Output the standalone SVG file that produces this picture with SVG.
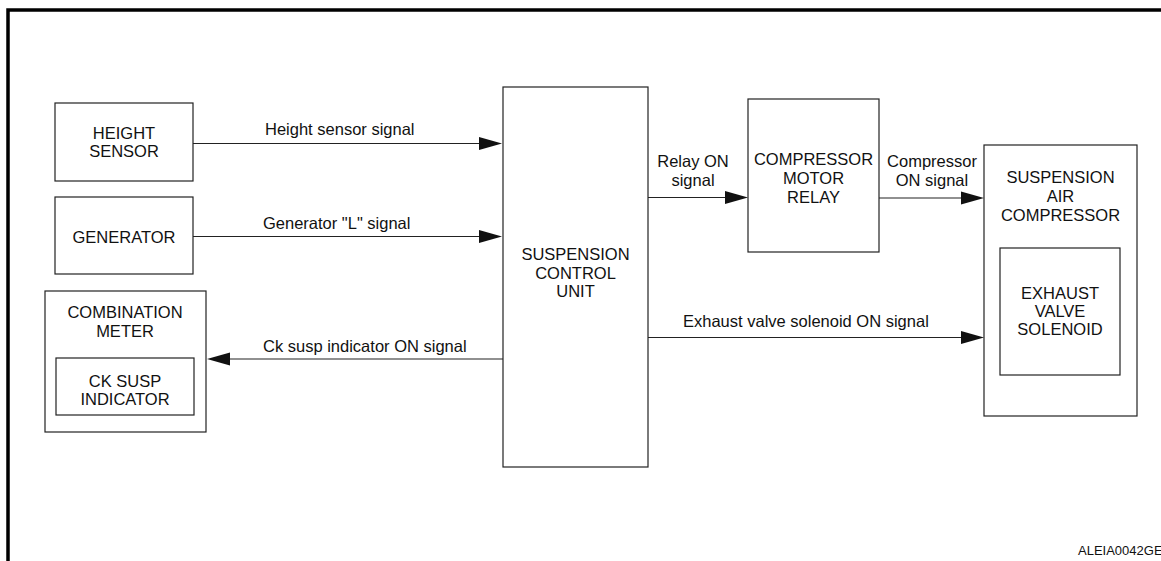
<svg xmlns="http://www.w3.org/2000/svg" width="1161" height="561" viewBox="0 0 1161 561">
<style>
.box{fill:#fff;stroke:#222;stroke-width:1.2}
.t{font-family:"Liberation Sans",Arial,sans-serif;font-size:16.5px;fill:#111;text-anchor:middle}
.l{font-family:"Liberation Sans",Arial,sans-serif;font-size:16.5px;fill:#111}
.c{stroke:#222;stroke-width:1.2;fill:none}
.ah{fill:#111}
</style>
<rect width="1161" height="561" fill="#fff"/>
<path d="M8,561 V10 H1161" fill="none" stroke="#000" stroke-width="3.5"/>
<g id="height-sensor">
<rect class="box" x="55" y="103" width="138" height="78"/>
<text class="t" x="124" y="139">HEIGHT</text>
<text class="t" x="124" y="157">SENSOR</text>
</g>
<g id="generator">
<rect class="box" x="55" y="197" width="138" height="77"/>
<text class="t" x="124" y="243">GENERATOR</text>
</g>
<g id="combination-meter">
<rect class="box" x="45" y="291" width="161" height="141"/>
<text class="t" x="125" y="318">COMBINATION</text>
<text class="t" x="125" y="337">METER</text>
<g id="ck-susp-indicator">
<rect class="box" x="56" y="358" width="138" height="57"/>
<text class="t" x="125" y="387">CK SUSP</text>
<text class="t" x="125" y="405">INDICATOR</text>
</g>
</g>
<g id="suspension-control-unit">
<rect class="box" x="503" y="87" width="145" height="380" stroke-width="1.6"/>
<text class="t" x="575.5" y="260">SUSPENSION</text>
<text class="t" x="575.5" y="279">CONTROL</text>
<text class="t" x="575.5" y="297">UNIT</text>
</g>
<g id="compressor-motor-relay">
<rect class="box" x="748" y="99" width="131" height="153"/>
<text class="t" x="813.5" y="165">COMPRESSOR</text>
<text class="t" x="813.5" y="184">MOTOR</text>
<text class="t" x="813.5" y="203">RELAY</text>
</g>
<g id="suspension-air-compressor">
<rect class="box" x="984" y="145" width="153" height="271"/>
<text class="t" x="1060.5" y="183">SUSPENSION</text>
<text class="t" x="1060.5" y="202">AIR</text>
<text class="t" x="1060.5" y="221">COMPRESSOR</text>
<g id="exhaust-valve-solenoid">
<rect class="box" x="1000" y="248" width="120" height="127"/>
<text class="t" x="1060" y="299">EXHAUST</text>
<text class="t" x="1060" y="317">VALVE</text>
<text class="t" x="1060" y="335">SOLENOID</text>
</g>
</g>
<g id="connectors">
<path class="c" d="M193,143.5 H480"/>
<polygon class="ah" points="502,143.5 479,137 479,150"/>
<text class="l" x="265" y="135">Height sensor signal</text>
<path class="c" d="M193,236.5 H480"/>
<polygon class="ah" points="502,236.5 479,230 479,243"/>
<text class="l" x="263" y="229">Generator "L" signal</text>
<path class="c" d="M503,359 H229"/>
<polygon class="ah" points="207,359 230,352.5 230,365.5"/>
<text class="l" x="263" y="352">Ck susp indicator ON signal</text>
<path class="c" d="M648,197.5 H726"/>
<polygon class="ah" points="748,197.5 725,191 725,204"/>
<text class="t" x="693" y="167">Relay ON</text>
<text class="t" x="693" y="186">signal</text>
<path class="c" d="M879,198 H962"/>
<polygon class="ah" points="984,198 961,191.5 961,204.5"/>
<text class="t" x="932" y="167">Compressor</text>
<text class="t" x="932" y="186">ON signal</text>
<path class="c" d="M648,337.5 H962"/>
<polygon class="ah" points="984,337.5 961,331 961,344"/>
<text class="l" x="683" y="327">Exhaust valve solenoid ON signal</text>
</g>
<text class="l" x="1078" y="555" style="font-size:13px">ALEIA0042GE</text>
</svg>
